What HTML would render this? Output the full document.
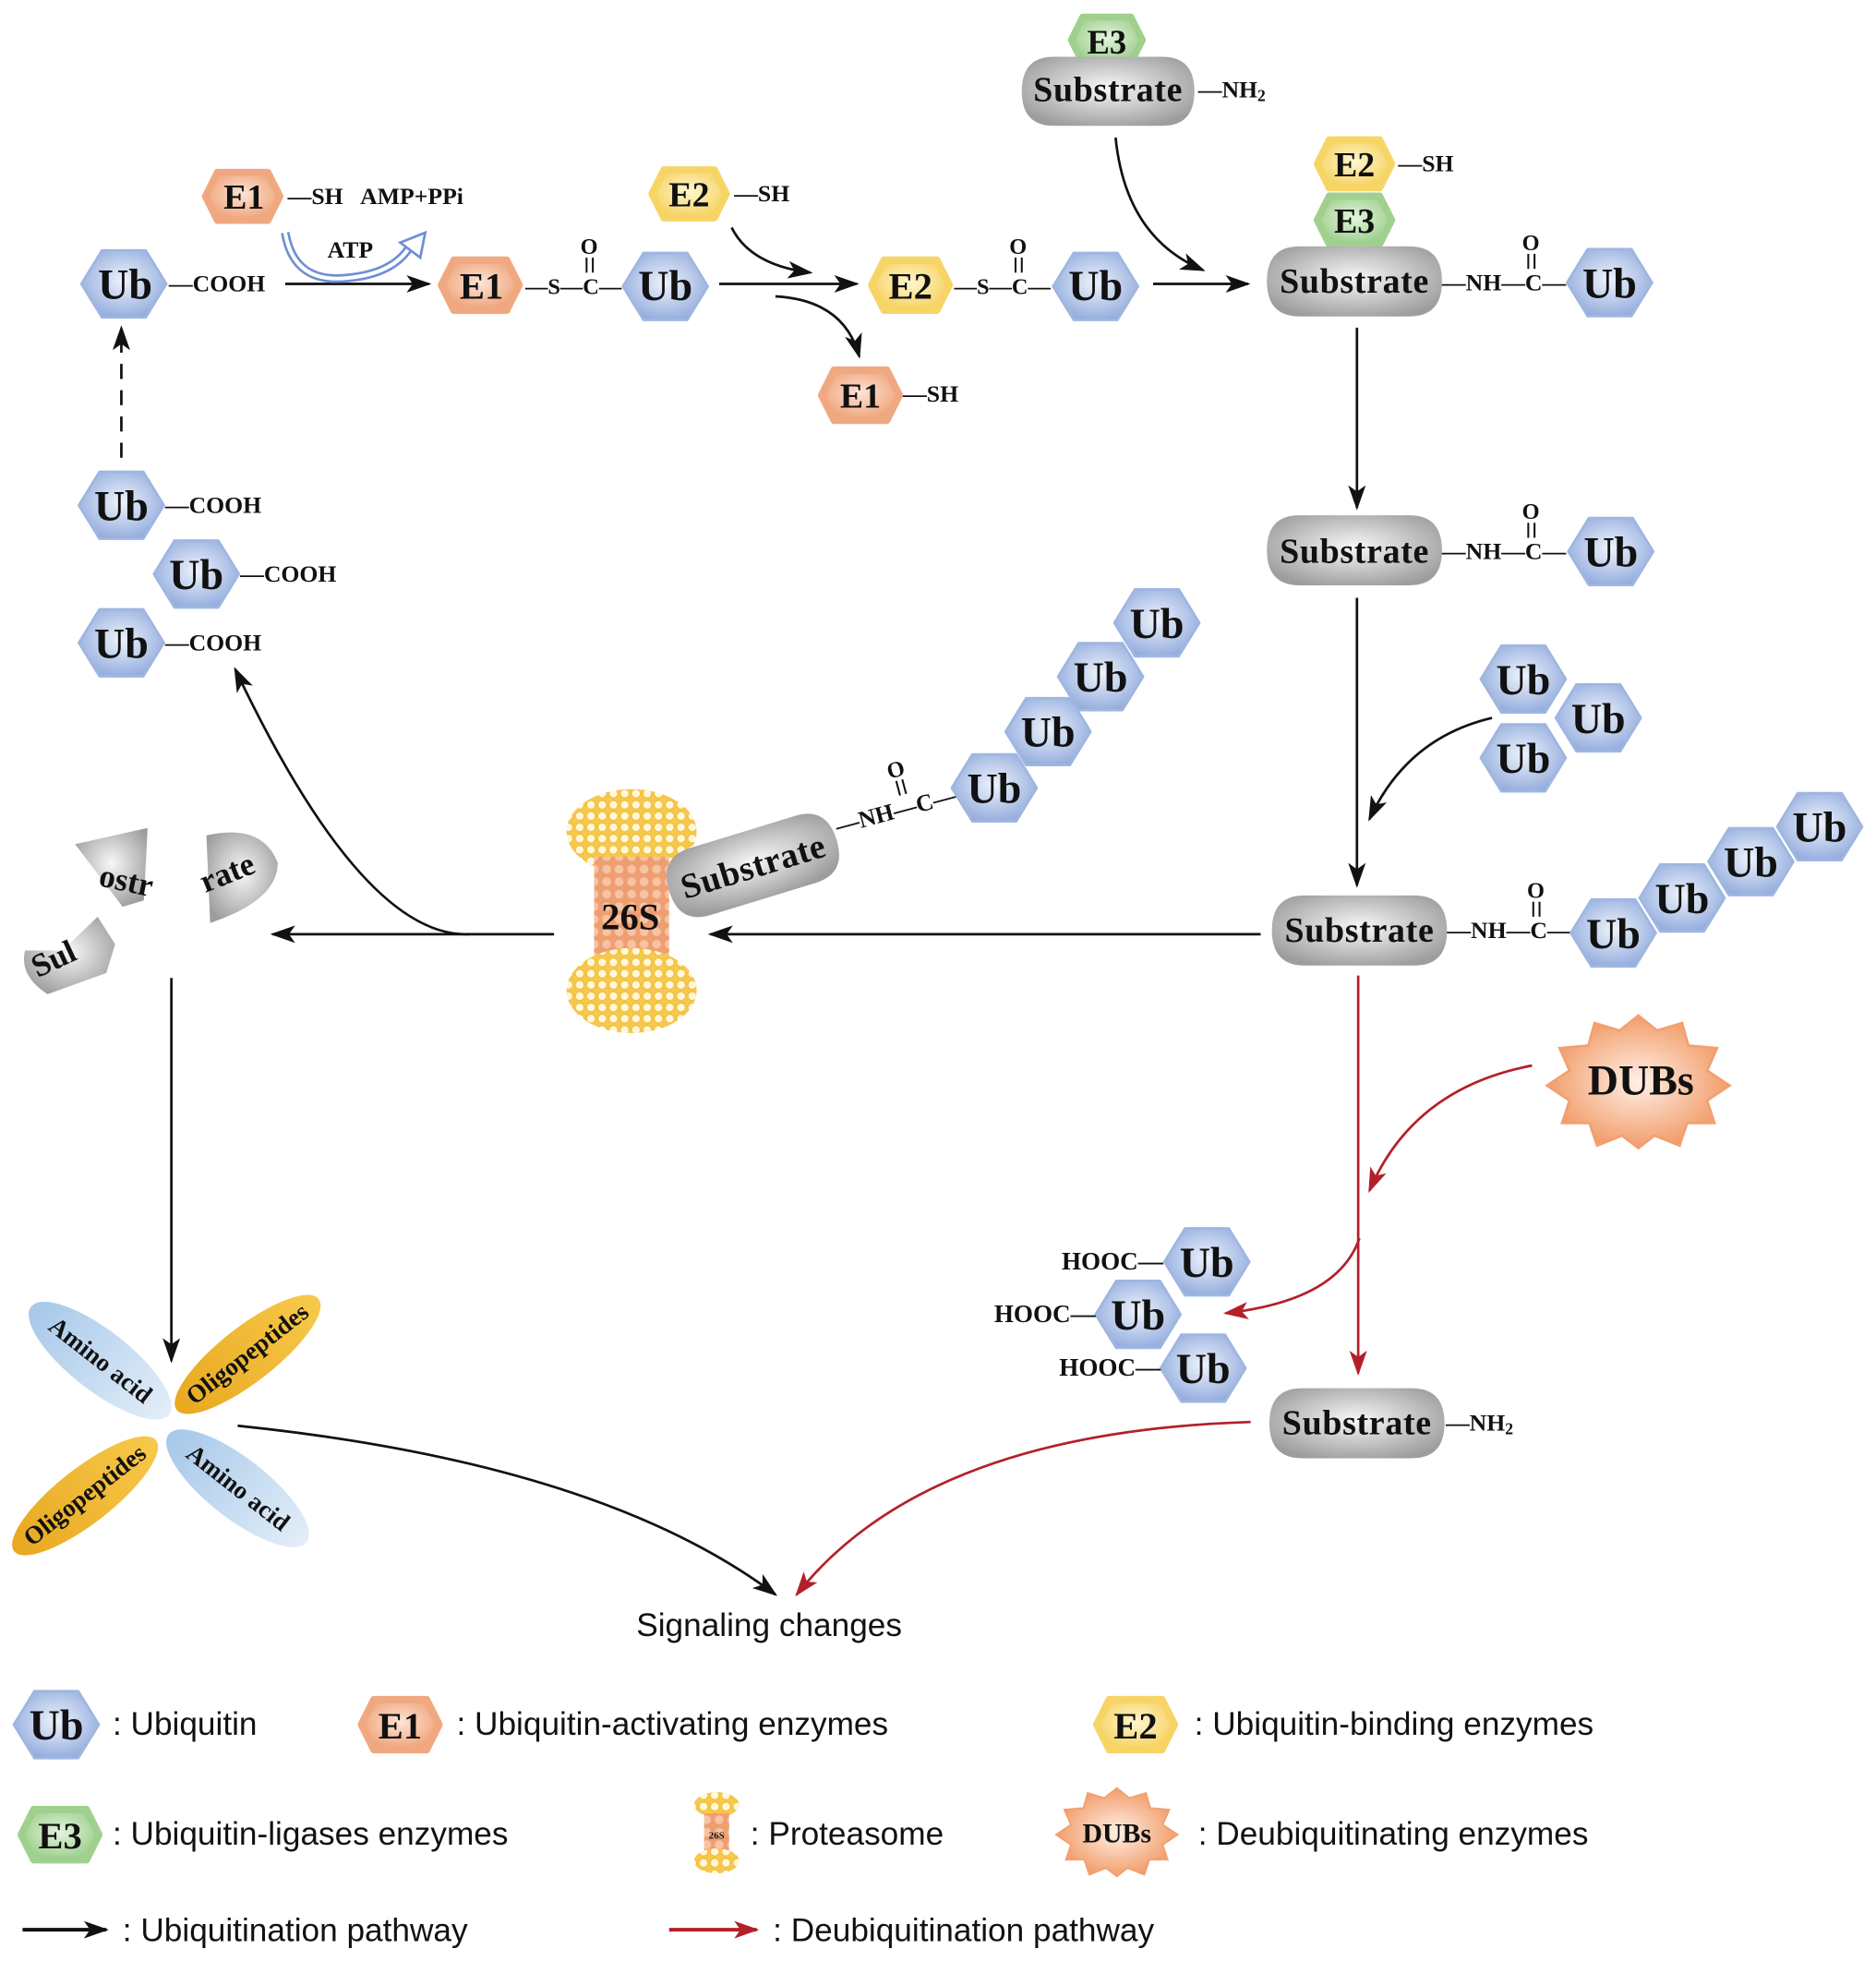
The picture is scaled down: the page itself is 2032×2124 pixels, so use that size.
<!DOCTYPE html>
<html><head><meta charset="utf-8"><style>
html,body{margin:0;padding:0;background:#fff}
svg{display:block}
.b{font-family:"Liberation Serif",serif;font-weight:bold;fill:#111}
.s{font-family:"Liberation Sans",sans-serif;fill:#111}
.sb{font-family:"Liberation Serif",serif;font-weight:bold;fill:#111;font-size:28px;letter-spacing:0.5px}
</style></head><body>
<svg width="2032" height="2124" viewBox="0 0 1500 1568" xmlns="http://www.w3.org/2000/svg">
<defs>
<radialGradient id="gub" cx="50%" cy="45%" r="60%"><stop offset="0" stop-color="#eef3fb"/><stop offset="1" stop-color="#8fa9dc"/></radialGradient>
<radialGradient id="ge1" cx="50%" cy="45%" r="60%"><stop offset="0" stop-color="#fde4d6"/><stop offset="1" stop-color="#ee9d70"/></radialGradient>
<radialGradient id="ge2" cx="50%" cy="45%" r="60%"><stop offset="0" stop-color="#fff6d0"/><stop offset="1" stop-color="#f5cf55"/></radialGradient>
<radialGradient id="ge3" cx="50%" cy="45%" r="60%"><stop offset="0" stop-color="#e4f3de"/><stop offset="1" stop-color="#97cc85"/></radialGradient>
<radialGradient id="gsub" cx="50%" cy="45%" r="60%"><stop offset="0" stop-color="#f7f7f7"/><stop offset="1" stop-color="#9d9d9d"/></radialGradient>
<radialGradient id="gdub" cx="50%" cy="50%" r="55%"><stop offset="0" stop-color="#fff0e6"/><stop offset="1" stop-color="#f0955f"/></radialGradient>
<linearGradient id="gaa" x1="0" x2="1"><stop offset="0" stop-color="#a6c8ea"/><stop offset="1" stop-color="#e3eef8"/></linearGradient>
<linearGradient id="gol" x1="0" x2="1"><stop offset="0" stop-color="#e8a820"/><stop offset="1" stop-color="#f7c94a"/></linearGradient>
<pattern id="pball" width="9" height="9" patternUnits="userSpaceOnUse"><rect width="9" height="9" fill="#f6c94e"/><circle cx="4.5" cy="4.5" r="3.6" fill="#fff7d8" stroke="#f2c040" stroke-width="1"/></pattern>
<pattern id="porg" width="10" height="10" patternUnits="userSpaceOnUse"><rect width="10" height="10" fill="#ee9f72"/><circle cx="5" cy="5" r="3.5" fill="#f7c3a3"/></pattern>
<symbol id="ub" viewBox="0 0 70 56"><polygon points="2,28 18,2 52,2 68,28 52,54 18,54" fill="url(#gub)" stroke="#9fb6e0" stroke-width="2" stroke-linejoin="round"/></symbol>
<symbol id="e1" viewBox="0 0 70 48"><polygon points="4,24 14,4 56,4 66,24 56,44 14,44" fill="url(#ge1)" stroke="#f0a880" stroke-width="6" stroke-linejoin="round"/></symbol>
<symbol id="e2" viewBox="0 0 70 48"><polygon points="4,24 14,4 56,4 66,24 56,44 14,44" fill="url(#ge2)" stroke="#f6d466" stroke-width="6" stroke-linejoin="round"/></symbol>
<symbol id="e3" viewBox="0 0 70 48"><polygon points="4,24 14,4 56,4 66,24 56,44 14,44" fill="url(#ge3)" stroke="#a0d08e" stroke-width="6" stroke-linejoin="round"/></symbol>
<symbol id="sub" viewBox="0 0 144 60"><path d="M28,2 H116 Q142,2 142,30 Q142,58 116,58 H28 Q2,58 2,30 Q2,2 28,2Z" fill="url(#gsub)"/></symbol>
<marker id="ah" viewBox="0 0 20 14" refX="18" refY="7" markerWidth="20" markerHeight="14" markerUnits="userSpaceOnUse" orient="auto"><path d="M0,0 L20,7 L0,14 L5,7Z" fill="#111"/></marker>
<marker id="ar" viewBox="0 0 20 14" refX="18" refY="7" markerWidth="20" markerHeight="14" markerUnits="userSpaceOnUse" orient="auto"><path d="M0,0 L20,7 L0,14 L5,7Z" fill="#b3202a"/></marker>
<symbol id="dub" viewBox="0 0 150 110"><polygon points="75,2 90,14 110,8 115,26 138,28 130,46 148,58 130,70 136,88 114,88 108,106 88,98 75,108 62,98 42,106 36,88 14,88 20,70 2,58 20,46 12,28 35,26 40,8 60,14" fill="url(#gdub)" stroke="#f3a070" stroke-width="2"/></symbol>
</defs>

<g fill="none" stroke="#111" stroke-width="2">
<line x1="228" y1="227" x2="343" y2="227" marker-end="url(#ah)"/>
<path d="M585,182 Q600,212 648,218" marker-end="url(#ah)"/>
<line x1="575" y1="227" x2="685" y2="227" marker-end="url(#ah)"/>
<path d="M620,237 Q675,240 687,285" marker-end="url(#ah)"/>
<line x1="922" y1="227" x2="998" y2="227" marker-end="url(#ah)"/>
<path d="M892,110 Q900,190 962,216" marker-end="url(#ah)"/>
<line x1="1085" y1="262" x2="1085" y2="406" marker-end="url(#ah)"/>
<line x1="1085" y1="478" x2="1085" y2="708" marker-end="url(#ah)"/>
<path d="M1193,574 Q1125,590 1095,655" marker-end="url(#ah)"/>
<line x1="1008" y1="747" x2="568" y2="747" marker-end="url(#ah)"/>
<line x1="443" y1="747" x2="218" y2="747" marker-end="url(#ah)"/>
<path d="M375,747 Q290,750 188,535" marker-end="url(#ah)"/>
<line x1="97" y1="366" x2="97" y2="262" stroke-dasharray="12,9" marker-end="url(#ah)"/>
<line x1="137" y1="782" x2="137" y2="1088" marker-end="url(#ah)"/>
<path d="M190,1140 Q480,1170 620,1275" marker-end="url(#ah)"/>
</g>
<g fill="none" stroke="#b3202a" stroke-width="2">
<line x1="1086" y1="780" x2="1086" y2="1098" marker-end="url(#ar)"/>
<path d="M1225,852 Q1130,870 1095,952" marker-end="url(#ar)"/>
<path d="M1087,990 Q1070,1040 980,1050" marker-end="url(#ar)"/>
<path d="M1000,1137 Q740,1145 637,1275" marker-end="url(#ar)"/>
</g>
<path d="M228,186 Q235,228 280,222 Q318,218 330,193" fill="none" stroke="#6e8fd6" stroke-width="7"/>
<path d="M228,186 Q235,228 280,222 Q318,218 330,193" fill="none" stroke="#fff" stroke-width="3"/>
<polygon points="320,194 340,186 336,206" fill="#fff" stroke="#6e8fd6" stroke-width="2"/>
<text x="280" y="206" class="b" font-size="19" text-anchor="middle">ATP</text>

<use href="#e3" x="850" y="10" width="70" height="44"/>
<text x="885" y="43" class="b" font-size="27" text-anchor="middle">E3</text>
<use href="#sub" x="815" y="42" width="142" height="62"/>
<text x="886" y="81" class="sb" text-anchor="middle">Substrate</text>
<text x="958" y="78" class="b" font-size="19">—NH<tspan font-size="13" dy="3">2</tspan></text>

<use href="#e1" x="158" y="134" width="72" height="46"/>
<text x="195" y="167" class="b" font-size="28" text-anchor="middle">E1</text>
<text x="230" y="163" class="b" font-size="19">—SH</text>
<text x="288" y="163" class="b" font-size="19">AMP+PPi</text>

<use href="#ub" x="63" y="198" width="72" height="58"/>
<text x="100" y="239" class="b" font-size="34" text-anchor="middle">Ub</text>
<text x="135" y="233" class="b" font-size="19">—COOH</text>

<use href="#e1" x="348" y="204" width="72" height="48"/>
<text x="385" y="239" class="b" font-size="30" text-anchor="middle">E1</text>
<text x="420" y="235" class="b" font-size="18">—S—C—</text>
<text x="464" y="203" class="b" font-size="18">O</text>
<line x1="469" y1="206" x2="469" y2="218" stroke="#111" stroke-width="1.5"/><line x1="474" y1="206" x2="474" y2="218" stroke="#111" stroke-width="1.5"/>
<use href="#ub" x="496" y="200" width="72" height="58"/>
<text x="532" y="240" class="b" font-size="34" text-anchor="middle">Ub</text>

<use href="#e2" x="515" y="132" width="72" height="46"/>
<text x="551" y="165" class="b" font-size="28" text-anchor="middle">E2</text>
<text x="587" y="161" class="b" font-size="19">—SH</text>

<use href="#e2" x="692" y="204" width="72" height="48"/>
<text x="728" y="239" class="b" font-size="30" text-anchor="middle">E2</text>
<text x="763" y="235" class="b" font-size="18">—S—C—</text>
<text x="807" y="203" class="b" font-size="18">O</text>
<line x1="812" y1="206" x2="812" y2="218" stroke="#111" stroke-width="1.5"/><line x1="817" y1="206" x2="817" y2="218" stroke="#111" stroke-width="1.5"/>
<use href="#ub" x="840" y="200" width="72" height="58"/>
<text x="876" y="240" class="b" font-size="34" text-anchor="middle">Ub</text>

<use href="#e1" x="652" y="292" width="72" height="48"/>
<text x="688" y="326" class="b" font-size="28" text-anchor="middle">E1</text>
<text x="722" y="321" class="b" font-size="19">—SH</text>

<use href="#e2" x="1047" y="108" width="72" height="46"/>
<text x="1083" y="141" class="b" font-size="28" text-anchor="middle">E2</text>
<text x="1118" y="137" class="b" font-size="19">—SH</text>
<use href="#e3" x="1047" y="153" width="72" height="46"/>
<text x="1083" y="186" class="b" font-size="28" text-anchor="middle">E3</text>
<use href="#sub" x="1011" y="194" width="144" height="62"/>
<text x="1083" y="234" class="sb" text-anchor="middle">Substrate</text>
<g id="nhc"><text x="1153" y="232" class="b" font-size="19">—NH—C—</text>
<text x="1217" y="200" class="b" font-size="18">O</text>
<line x1="1222" y1="203" x2="1222" y2="215" stroke="#111" stroke-width="1.5"/><line x1="1227" y1="203" x2="1227" y2="215" stroke="#111" stroke-width="1.5"/></g>
<use href="#ub" x="1251" y="197" width="72" height="58"/>
<text x="1287" y="238" class="b" font-size="34" text-anchor="middle">Ub</text>

<use href="#sub" x="1011" y="409" width="144" height="62"/>
<text x="1083" y="450" class="sb" text-anchor="middle">Substrate</text>
<use href="#nhc" x="0" y="215"/>
<use href="#ub" x="1252" y="412" width="72" height="58"/>
<text x="1288" y="453" class="b" font-size="34" text-anchor="middle">Ub</text>

<use href="#ub" x="1182" y="514" width="72" height="58"/><text x="1218" y="555" class="b" font-size="34" text-anchor="middle">Ub</text>
<use href="#ub" x="1242" y="545" width="72" height="58"/><text x="1278" y="586" class="b" font-size="34" text-anchor="middle">Ub</text>
<use href="#ub" x="1182" y="577" width="72" height="58"/><text x="1218" y="618" class="b" font-size="34" text-anchor="middle">Ub</text>

<use href="#sub" x="1015" y="713" width="144" height="62"/>
<text x="1087" y="753" class="sb" text-anchor="middle">Substrate</text>
<use href="#nhc" x="4" y="518"/>
<use href="#ub" x="1419" y="632" width="72" height="58"/><text x="1455" y="673" class="b" font-size="34" text-anchor="middle">Ub</text>
<use href="#ub" x="1364" y="660" width="72" height="58"/><text x="1400" y="701" class="b" font-size="34" text-anchor="middle">Ub</text>
<use href="#ub" x="1309" y="689" width="72" height="58"/><text x="1345" y="730" class="b" font-size="34" text-anchor="middle">Ub</text>
<use href="#ub" x="1254" y="717" width="72" height="58"/><text x="1290" y="758" class="b" font-size="34" text-anchor="middle">Ub</text>

<ellipse cx="505" cy="665" rx="52" ry="34" fill="url(#pball)"/>
<rect x="475" y="685" width="60" height="92" fill="url(#porg)"/>
<ellipse cx="505" cy="792" rx="52" ry="34" fill="url(#pball)"/>
<text x="504" y="743" class="b" font-size="30" text-anchor="middle">26S</text>
<g transform="translate(602,692) rotate(-17)">
<use href="#sub" x="-72" y="-31" width="144" height="62"/>
<text x="0" y="10" class="sb" text-anchor="middle">Substrate</text>
</g>
<g transform="translate(670,667) rotate(-15)">
<text x="0" y="0" class="b" font-size="19">—NH—C—</text>
<text x="51" y="-32" class="b" font-size="18">O</text>
<line x1="56" y1="-29" x2="56" y2="-17" stroke="#111" stroke-width="1.5"/><line x1="61" y1="-29" x2="61" y2="-17" stroke="#111" stroke-width="1.5"/>
</g>
<use href="#ub" x="889" y="469" width="72" height="58"/><text x="925" y="510" class="b" font-size="34" text-anchor="middle">Ub</text>
<use href="#ub" x="844" y="512" width="72" height="58"/><text x="880" y="553" class="b" font-size="34" text-anchor="middle">Ub</text>
<use href="#ub" x="802" y="556" width="72" height="58"/><text x="838" y="597" class="b" font-size="34" text-anchor="middle">Ub</text>
<use href="#ub" x="759" y="601" width="72" height="58"/><text x="795" y="642" class="b" font-size="34" text-anchor="middle">Ub</text>

<g class="b" font-size="26">
<path d="M60,675 L118,662 L115,720 L98,725Z" fill="url(#gsub)"/>
<text transform="translate(78,708) rotate(12)">ostr</text>
<path d="M165,668 Q210,658 222,690 Q222,720 168,738Z" fill="url(#gsub)"/>
<text transform="translate(164,714) rotate(-22)">rate</text>
<path d="M50,760 L78,733 L92,755 L85,778 L38,795 Q15,780 20,760Z" fill="url(#gsub)"/>
<text transform="translate(30,782) rotate(-25)">Sul</text>
</g>

<use href="#ub" x="61" y="375" width="72" height="58"/><text x="97" y="416" class="b" font-size="34" text-anchor="middle">Ub</text>
<text x="132" y="410" class="b" font-size="19">—COOH</text>
<use href="#ub" x="121" y="430" width="72" height="58"/><text x="157" y="471" class="b" font-size="34" text-anchor="middle">Ub</text>
<text x="192" y="465" class="b" font-size="19">—COOH</text>
<use href="#ub" x="61" y="485" width="72" height="58"/><text x="97" y="526" class="b" font-size="34" text-anchor="middle">Ub</text>
<text x="132" y="520" class="b" font-size="19">—COOH</text>

<g class="b" font-size="20">
<g transform="translate(80,1088) rotate(38)"><ellipse rx="70" ry="24" fill="url(#gaa)"/><text y="6" text-anchor="middle">Amino acid</text></g>
<g transform="translate(198,1083) rotate(-38)"><ellipse rx="72" ry="22" fill="url(#gol)"/><text y="6" text-anchor="middle">Oligopeptides</text></g>
<g transform="translate(68,1196) rotate(-38)"><ellipse rx="72" ry="22" fill="url(#gol)"/><text y="6" text-anchor="middle">Oligopeptides</text></g>
<g transform="translate(190,1190) rotate(38)"><ellipse rx="70" ry="24" fill="url(#gaa)"/><text y="6" text-anchor="middle">Amino acid</text></g>
</g>

<use href="#dub" x="1235" y="810" width="150" height="110"/>
<text x="1312" y="875" class="b" font-size="34" text-anchor="middle">DUBs</text>

<use href="#ub" x="929" y="980" width="72" height="58"/><text x="965" y="1021" class="b" font-size="34" text-anchor="middle">Ub</text>
<text x="930" y="1015" class="b" font-size="20" text-anchor="end">HOOC—</text>
<use href="#ub" x="874" y="1022" width="72" height="58"/><text x="910" y="1063" class="b" font-size="34" text-anchor="middle">Ub</text>
<text x="876" y="1057" class="b" font-size="20" text-anchor="end">HOOC—</text>
<use href="#ub" x="926" y="1065" width="72" height="58"/><text x="962" y="1106" class="b" font-size="34" text-anchor="middle">Ub</text>
<text x="928" y="1100" class="b" font-size="20" text-anchor="end">HOOC—</text>

<use href="#sub" x="1013" y="1107" width="144" height="62"/>
<text x="1085" y="1147" class="sb" text-anchor="middle">Substrate</text>
<text x="1156" y="1144" class="b" font-size="19">—NH<tspan font-size="13" dy="3">2</tspan></text>

<text x="615" y="1308" class="s" font-size="26" text-anchor="middle">Signaling changes</text>

<use href="#ub" x="9" y="1350" width="72" height="58"/><text x="45" y="1391" class="b" font-size="34" text-anchor="middle">Ub</text>
<text x="90" y="1387" class="s" font-size="26">:  Ubiquitin</text>
<use href="#e1" x="284" y="1355" width="72" height="48"/><text x="320" y="1390" class="b" font-size="30" text-anchor="middle">E1</text>
<text x="365" y="1387" class="s" font-size="26">:  Ubiquitin-activating enzymes</text>
<use href="#e2" x="872" y="1355" width="72" height="48"/><text x="908" y="1390" class="b" font-size="30" text-anchor="middle">E2</text>
<text x="955" y="1387" class="s" font-size="26">:  Ubiquitin-binding enzymes</text>

<use href="#e3" x="12" y="1443" width="72" height="48"/><text x="48" y="1478" class="b" font-size="30" text-anchor="middle">E3</text>
<text x="90" y="1475" class="s" font-size="26">:  Ubiquitin-ligases enzymes</text>
<ellipse cx="573" cy="1443" rx="18" ry="10" fill="url(#pball)"/>
<rect x="563" y="1450" width="20" height="32" fill="url(#porg)"/>
<ellipse cx="573" cy="1488" rx="18" ry="10" fill="url(#pball)"/>
<text x="573" y="1470" class="b" font-size="8" text-anchor="middle">26S</text>
<text x="600" y="1475" class="s" font-size="26">:  Proteasome</text>
<use href="#dub" x="843" y="1428" width="100" height="74"/>
<text x="893" y="1473" class="b" font-size="22" text-anchor="middle">DUBs</text>
<text x="958" y="1475" class="s" font-size="26">:  Deubiquitinating enzymes</text>

<line x1="18" y1="1543" x2="85" y2="1543" stroke="#111" stroke-width="3" marker-end="url(#ah)"/>
<text x="98" y="1552" class="s" font-size="26">:  Ubiquitination pathway</text>
<line x1="535" y1="1543" x2="605" y2="1543" stroke="#b3202a" stroke-width="3" marker-end="url(#ar)"/>
<text x="618" y="1552" class="s" font-size="26">:  Deubiquitination pathway</text>
</svg>
</body></html>
